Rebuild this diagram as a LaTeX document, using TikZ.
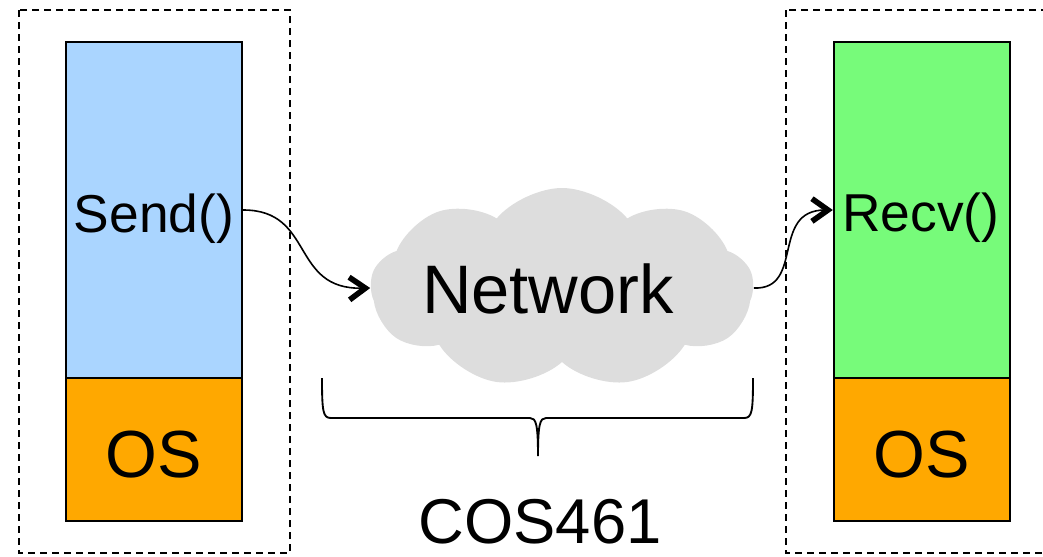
\documentclass[tikz,border=0pt]{standalone}
\usepackage{fontspec}
\setmainfont{Liberation Sans}
\usetikzlibrary{arrows.meta,shapes.symbols}
\definecolor{appblue}{HTML}{AAD5FF}
\definecolor{appgreen}{HTML}{77FB7A}
\definecolor{osorange}{HTML}{FFA800}
\definecolor{cloudgray}{HTML}{DDDDDD}
\tikzset{
  hostframe/.style={draw=black, line width=1.9pt, dash pattern=on 5.5pt off 3.5pt},
  appbox/.style={draw=black, line width=1.8pt, rectangle, minimum width=132pt, minimum height=252pt, inner sep=0pt},
  osbox/.style={draw=black, line width=1.8pt, rectangle, fill=osorange, minimum width=132pt, minimum height=107.25pt, inner sep=0pt},
  label/.style={anchor=base, inner sep=0pt},
  flow/.style={line width=1.2pt, -{Straight Barb[length=12pt,width=17pt,line width=4.2pt]}},
}
\begin{document}
\begin{tikzpicture}[x=0.75pt,y=-0.75pt]
\useasboundingbox (0,0) rectangle (1043,557);

% host frames
\draw[hostframe] (19,10) rectangle (290,553);
\draw[hostframe] (786,10) rectangle (1070,553);

% sender stack
\node[appbox, fill=appblue] (sendbox) at (154,210) {};
\node[osbox] (sendos) at (154,449.5) {};
\node[label, font=\fontsize{40}{44}\selectfont] (sendtxt) at (154,232) {Send()};
\node[label, font=\fontsize{50}{54}\selectfont] (sendostxt) at (154,477) {OS};

% receiver stack
\node[appbox, fill=appgreen] (recvbox) at (922,210) {};
\node[osbox] (recvos) at (922,449.5) {};
\node[label, font=\fontsize{40}{44}\selectfont] (recvtxt) at (921,231) {Recv()};
\node[label, font=\fontsize{50}{54}\selectfont] (recvostxt) at (922,477) {OS};

% network cloud
\node[cloud, cloud puffs=9, cloud puff arc=100, aspect=2, fill=cloudgray, draw=none,
      minimum width=287pt, minimum height=150pt, inner sep=0pt] (net) at (562,288) {};
\node[label, font=\fontsize{51.5}{56}\selectfont] (nettxt) at (548,313) {Network};

% messages
\draw[flow] (sendbox.east) .. controls (315,210) and (290,290) .. (net.west);
\draw[flow] (net.east) .. controls (805,290) and (770,210) .. (recvbox.west);

% brace under the network
\coordinate (bl) at (322,378);
\coordinate (br) at (753,378);
\coordinate (btip) at (538,456);
\draw[line width=1.4pt] (bl) .. controls (322,412) and (323,418) .. (331,418)
  -- (530,418) .. controls (536,418) and (538,424) .. (btip)
  .. controls (538,424) and (540,418) .. (546,418)
  -- (744,418) .. controls (752,418) and (753,412) .. (br);
\node[label, font=\fontsize{47.5}{52}\selectfont] (course) at (540,543) {COS461};
\end{tikzpicture}
\end{document}
